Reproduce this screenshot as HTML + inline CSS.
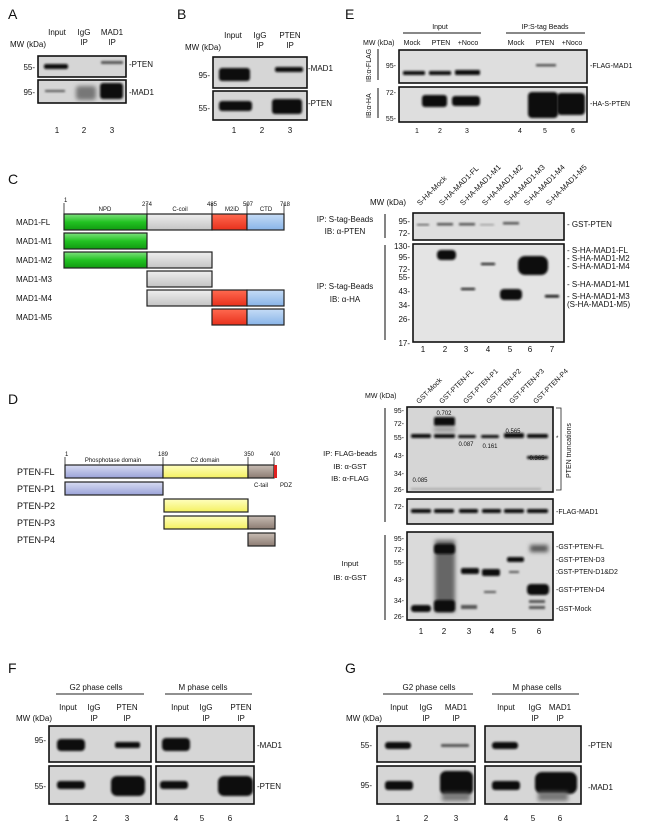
<!DOCTYPE html>
<html><head><meta charset="utf-8"><style>
html,body{margin:0;padding:0;background:#fff}
svg{display:block}
text{font-family:"Liberation Sans",Arial,sans-serif;fill:#111}
.s{font-size:8px}.m{font-size:9px}.L{font-size:14px}
.blot{fill:#d6d6d6;stroke:#111;stroke-width:1.6}
.wb{fill:#dedede;stroke:#111;stroke-width:1.6}
.bd{fill:#111;filter:url(#b)}
.fd{fill:#555;filter:url(#b)}
.dom{stroke:#222;stroke-width:1.2}
</style></head><body>
<svg width="650" height="829" viewBox="0 0 650 829" xmlns="http://www.w3.org/2000/svg">
<defs>
<filter id="b" x="-30%" y="-80%" width="160%" height="260%"><feGaussianBlur stdDeviation="1.1"/></filter>
<filter id="b2" x="-30%" y="-80%" width="160%" height="260%"><feGaussianBlur stdDeviation="2"/></filter>
<linearGradient id="gr" x1="0" y1="0" x2="0" y2="1"><stop offset="0" stop-color="#7fe07f"/><stop offset=".5" stop-color="#22c322"/><stop offset="1" stop-color="#119a11"/></linearGradient>
<linearGradient id="gy" x1="0" y1="0" x2="0" y2="1"><stop offset="0" stop-color="#eee"/><stop offset="1" stop-color="#c4c4c4"/></linearGradient>
<linearGradient id="rd" x1="0" y1="0" x2="0" y2="1"><stop offset="0" stop-color="#ff6a50"/><stop offset="1" stop-color="#e8301c"/></linearGradient>
<linearGradient id="bl" x1="0" y1="0" x2="0" y2="1"><stop offset="0" stop-color="#c6dcf6"/><stop offset="1" stop-color="#88b4e8"/></linearGradient>
<linearGradient id="lv" x1="0" y1="0" x2="0" y2="1"><stop offset="0" stop-color="#d8dcf2"/><stop offset="1" stop-color="#9aa2d8"/></linearGradient>
<linearGradient id="yl" x1="0" y1="0" x2="0" y2="1"><stop offset="0" stop-color="#ffffc0"/><stop offset="1" stop-color="#f4f060"/></linearGradient>
<linearGradient id="br" x1="0" y1="0" x2="0" y2="1"><stop offset="0" stop-color="#c8bcb4"/><stop offset="1" stop-color="#8c7c72"/></linearGradient>
</defs>

<!-- A -->
<text x="8" y="19" class="L">A</text>
<text x="57" y="35" class="s" text-anchor="middle">Input</text>
<text x="84" y="35" class="s" text-anchor="middle">IgG</text><text x="84" y="45" class="s" text-anchor="middle">IP</text>
<text x="112" y="35" class="s" text-anchor="middle">MAD1</text><text x="112" y="45" class="s" text-anchor="middle">IP</text>
<text x="10" y="47" class="s">MW (kDa)</text>
<rect x="38" y="56" width="88" height="21" class="blot"/>
<rect x="38" y="80" width="88" height="23" class="blot"/>
<text x="35" y="70" class="s" text-anchor="end">55-</text>
<text x="35" y="95" class="s" text-anchor="end">95-</text>
<text x="129" y="67" class="s">-PTEN</text><text x="129" y="95" class="s">-MAD1</text>
<rect x="44" y="64" width="24" height="5" rx="2" class="bd"/>
<rect x="101" y="61" width="22" height="3" rx="1" class="fd"/>
<rect x="45" y="90" width="20" height="2" class="fd"/>
<rect x="76" y="86" width="20" height="14" rx="3" fill="#777" filter="url(#b2)"/>
<rect x="100" y="83" width="23" height="16" rx="3" class="bd"/>
<text x="57" y="133" class="s" text-anchor="middle">1</text><text x="84" y="133" class="s" text-anchor="middle">2</text><text x="112" y="133" class="s" text-anchor="middle">3</text>

<!-- B -->
<text x="177" y="19" class="L">B</text>
<text x="233" y="38" class="s" text-anchor="middle">Input</text>
<text x="260" y="38" class="s" text-anchor="middle">IgG</text><text x="260" y="48" class="s" text-anchor="middle">IP</text>
<text x="290" y="38" class="s" text-anchor="middle">PTEN</text><text x="290" y="48" class="s" text-anchor="middle">IP</text>
<text x="185" y="50" class="s">MW (kDa)</text>
<rect x="213" y="57" width="94" height="31" class="blot"/>
<rect x="213" y="91" width="94" height="29" class="blot"/>
<text x="210" y="78" class="s" text-anchor="end">95-</text><text x="210" y="111" class="s" text-anchor="end">55-</text>
<text x="308" y="71" class="s">-MAD1</text><text x="308" y="106" class="s">-PTEN</text>
<rect x="219" y="68" width="31" height="13" rx="3" class="bd"/>
<rect x="275" y="67" width="28" height="5" rx="2" class="bd"/>
<rect x="219" y="101" width="33" height="10" rx="3" class="bd"/>
<rect x="272" y="99" width="30" height="15" rx="3" class="bd"/>
<text x="234" y="133" class="s" text-anchor="middle">1</text><text x="262" y="133" class="s" text-anchor="middle">2</text><text x="290" y="133" class="s" text-anchor="middle">3</text>

<!-- E -->
<text x="345" y="19" class="L">E</text>
<text x="440" y="29" class="s" text-anchor="middle" style="font-size:7px">Input</text>
<line x1="403" y1="33" x2="481" y2="33" stroke="#111"/>
<text x="545" y="29" class="s" text-anchor="middle" style="font-size:7px">IP:S-tag Beads</text>
<line x1="506" y1="33" x2="585" y2="33" stroke="#111"/>
<g style="font-size:7px"><text x="363" y="45" class="s" style="font-size:7px">MW (kDa)</text>
<text x="412" y="45" class="s" text-anchor="middle" style="font-size:7px">Mock</text>
<text x="441" y="45" class="s" text-anchor="middle" style="font-size:7px">PTEN</text>
<text x="468" y="45" class="s" text-anchor="middle" style="font-size:7px">+Noco</text>
<text x="516" y="45" class="s" text-anchor="middle" style="font-size:7px">Mock</text>
<text x="545" y="45" class="s" text-anchor="middle" style="font-size:7px">PTEN</text>
<text x="572" y="45" class="s" text-anchor="middle" style="font-size:7px">+Noco</text></g>
<rect x="399" y="50" width="188" height="33" class="wb"/>
<rect x="399" y="87" width="188" height="35" class="wb"/>
<line x1="378" y1="49" x2="378" y2="80" stroke="#111"/><line x1="378" y1="88" x2="378" y2="118" stroke="#111"/>
<text transform="translate(371,82) rotate(-90)" class="s" style="font-size:7px">IB:α-FLAG</text>
<text transform="translate(371,118) rotate(-90)" class="s" style="font-size:7px">IB:α-HA</text>
<text x="396" y="68" class="s" text-anchor="end" style="font-size:7px">95-</text>
<text x="396" y="95" class="s" text-anchor="end" style="font-size:7px">72-</text>
<text x="396" y="121" class="s" text-anchor="end" style="font-size:7px">55-</text>
<text x="590" y="68" class="s" style="font-size:7px">-FLAG-MAD1</text>
<text x="590" y="106" class="s" style="font-size:7px">-HA-S-PTEN</text>
<rect x="403" y="71" width="22" height="4" rx="1" class="bd"/>
<rect x="429" y="71" width="22" height="4" rx="1" class="bd"/>
<rect x="455" y="70" width="25" height="5" rx="1" class="bd"/>
<rect x="536" y="64" width="20" height="2.5" class="fd"/>
<rect x="422" y="95" width="25" height="12" rx="3" class="bd"/>
<rect x="452" y="96" width="28" height="10" rx="3" class="bd"/>
<rect x="528" y="92" width="30" height="26" rx="4" class="bd"/>
<rect x="557" y="93" width="28" height="22" rx="4" class="bd"/>
<g class="s" style="font-size:7px"><text x="417" y="133" text-anchor="middle" style="font-size:7px">1</text><text x="440" y="133" text-anchor="middle" style="font-size:7px">2</text><text x="467" y="133" text-anchor="middle" style="font-size:7px">3</text><text x="520" y="133" text-anchor="middle" style="font-size:7px">4</text><text x="545" y="133" text-anchor="middle" style="font-size:7px">5</text><text x="573" y="133" text-anchor="middle" style="font-size:7px">6</text></g>

<!-- C -->
<text x="8" y="184" class="L">C</text>
<g style="font-size:6px">
<text x="64" y="202" class="s" style="font-size:6px">1</text>
<text x="105" y="211" class="s" text-anchor="middle" style="font-size:6px">NPD</text>
<text x="147" y="206" class="s" text-anchor="middle" style="font-size:6px">274</text>
<text x="180" y="211" class="s" text-anchor="middle" style="font-size:6px">C-coil</text>
<text x="212" y="206" class="s" text-anchor="middle" style="font-size:6px">485</text>
<text x="232" y="211" class="s" text-anchor="middle" style="font-size:6px">M2iD</text>
<text x="248" y="206" class="s" text-anchor="middle" style="font-size:6px">597</text>
<text x="266" y="211" class="s" text-anchor="middle" style="font-size:6px">CTD</text>
<text x="285" y="206" class="s" text-anchor="middle" style="font-size:6px">718</text></g>
<g stroke="#222" stroke-width="0.8"><line x1="64" y1="203" x2="64" y2="214"/><line x1="147" y1="203" x2="147" y2="214"/><line x1="212" y1="203" x2="212" y2="214"/><line x1="247" y1="203" x2="247" y2="214"/><line x1="284" y1="203" x2="284" y2="214"/></g>
<g class="dom">
<rect x="64" y="214" width="83" height="16" fill="url(#gr)"/><rect x="147" y="214" width="65" height="16" fill="url(#gy)"/><rect x="212" y="214" width="35" height="16" fill="url(#rd)"/><rect x="247" y="214" width="37" height="16" fill="url(#bl)"/>
<rect x="64" y="233" width="83" height="16" fill="url(#gr)"/>
<rect x="64" y="252" width="83" height="16" fill="url(#gr)"/><rect x="147" y="252" width="65" height="16" fill="url(#gy)"/>
<rect x="147" y="271" width="65" height="16" fill="url(#gy)"/>
<rect x="147" y="290" width="65" height="16" fill="url(#gy)"/><rect x="212" y="290" width="35" height="16" fill="url(#rd)"/><rect x="247" y="290" width="37" height="16" fill="url(#bl)"/>
<rect x="212" y="309" width="35" height="16" fill="url(#rd)"/><rect x="247" y="309" width="37" height="16" fill="url(#bl)"/>
</g>
<g class="s"><text x="16" y="225" class="s">MAD1-FL</text><text x="16" y="244" class="s">MAD1-M1</text><text x="16" y="263" class="s">MAD1-M2</text><text x="16" y="282" class="s">MAD1-M3</text><text x="16" y="301" class="s">MAD1-M4</text><text x="16" y="320" class="s">MAD1-M5</text></g>

<!-- MAD1 truncation blot -->
<text x="370" y="205" class="s">MW (kDa)</text>
<g class="s" style="font-size:7.5px">
<text transform="translate(420,206) rotate(-45)" style="font-size:7.5px">S-HA-Mock</text>
<text transform="translate(442,206) rotate(-45)" style="font-size:7.5px">S-HA-MAD1-FL</text>
<text transform="translate(463,206) rotate(-45)" style="font-size:7.5px">S-HA-MAD1-M1</text>
<text transform="translate(485,206) rotate(-45)" style="font-size:7.5px">S-HA-MAD1-M2</text>
<text transform="translate(507,206) rotate(-45)" style="font-size:7.5px">S-HA-MAD1-M3</text>
<text transform="translate(527,206) rotate(-45)" style="font-size:7.5px">S-HA-MAD1-M4</text>
<text transform="translate(549,206) rotate(-45)" style="font-size:7.5px">S-HA-MAD1-M5</text>
</g>
<rect x="413" y="213" width="151" height="27" class="wb"/>
<rect x="413" y="244" width="151" height="98" class="wb" style="fill:#e4e4e4"/>
<line x1="385" y1="214" x2="385" y2="238" stroke="#333" stroke-width="1.2"/>
<line x1="385" y1="245" x2="385" y2="340" stroke="#333" stroke-width="1.2"/>
<text x="345" y="222" class="s" text-anchor="middle">IP: S-tag-Beads</text>
<text x="345" y="234" class="s" text-anchor="middle">IB: α-PTEN</text>
<text x="345" y="289" class="s" text-anchor="middle">IP: S-tag-Beads</text>
<text x="345" y="302" class="s" text-anchor="middle">IB: α-HA</text>
<g class="s" text-anchor="end"><text x="410" y="224" class="s">95-</text><text x="410" y="236" class="s">72-</text>
<text x="410" y="249" class="s">130-</text><text x="410" y="260" class="s">95-</text><text x="410" y="272" class="s">72-</text><text x="410" y="280" class="s">55-</text><text x="410" y="294" class="s">43-</text><text x="410" y="308" class="s">34-</text><text x="410" y="322" class="s">26-</text><text x="410" y="346" class="s">17-</text></g>
<text x="567" y="227" class="s">- GST-PTEN</text>
<text x="567" y="253" class="s">- S-HA-MAD1-FL</text>
<text x="567" y="261" class="s">- S-HA-MAD1-M2</text>
<text x="567" y="269" class="s">- S-HA-MAD1-M4</text>
<text x="567" y="287" class="s">- S-HA-MAD1-M1</text>
<text x="567" y="299" class="s">- S-HA-MAD1-M3</text>
<text x="567" y="307" class="s">(S-HA-MAD1-M5)</text>
<rect x="417" y="224" width="12" height="1.5" class="fd"/>
<rect x="437" y="223" width="16" height="2.5" class="fd"/>
<rect x="459" y="223" width="16" height="2.5" class="fd"/>
<rect x="480" y="224" width="14" height="1.5" class="fd" style="opacity:.5"/>
<rect x="503" y="222" width="16" height="2.5" class="fd"/>
<rect x="437" y="250" width="19" height="10" rx="4" class="bd"/>
<rect x="461" y="288" width="14" height="2" class="bd"/>
<rect x="481" y="263" width="14" height="2" class="bd"/>
<rect x="500" y="289" width="22" height="11" rx="4" class="bd"/>
<rect x="518" y="256" width="30" height="19" rx="7" class="bd"/>
<rect x="545" y="295" width="14" height="2.5" class="bd"/>
<g class="s" text-anchor="middle"><text x="423" y="352" class="s">1</text><text x="445" y="352" class="s">2</text><text x="466" y="352" class="s">3</text><text x="488" y="352" class="s">4</text><text x="510" y="352" class="s">5</text><text x="530" y="352" class="s">6</text><text x="552" y="352" class="s">7</text></g>

<!-- D -->
<text x="8" y="404" class="L">D</text>
<g style="font-size:6px">
<text x="65" y="456" class="s" style="font-size:6px">1</text>
<text x="113" y="462" class="s" text-anchor="middle" style="font-size:6px">Phosphotase domain</text>
<text x="163" y="456" class="s" text-anchor="middle" style="font-size:6px">189</text>
<text x="205" y="462" class="s" text-anchor="middle" style="font-size:6px">C2 domain</text>
<text x="249" y="456" class="s" text-anchor="middle" style="font-size:6px">350</text>
<text x="275" y="456" class="s" text-anchor="middle" style="font-size:6px">400</text>
<text x="261" y="487" class="s" text-anchor="middle" style="font-size:6px">C-tail</text>
<text x="286" y="487" class="s" text-anchor="middle" style="font-size:6px">PDZ</text></g>
<g stroke="#222" stroke-width="0.8"><line x1="65" y1="457" x2="65" y2="465"/><line x1="163" y1="457" x2="163" y2="465"/><line x1="248" y1="457" x2="248" y2="465"/><line x1="274" y1="457" x2="274" y2="465"/></g>
<g class="dom">
<rect x="65" y="465" width="98" height="13" fill="url(#lv)"/><rect x="163" y="465" width="85" height="13" fill="url(#yl)"/><rect x="248" y="465" width="26" height="13" fill="url(#br)"/><rect x="274" y="465" width="3" height="13" fill="#e02020" stroke="none"/>
<rect x="65" y="482" width="98" height="13" fill="url(#lv)"/>
<rect x="164" y="499" width="84" height="13" fill="url(#yl)"/>
<rect x="164" y="516" width="84" height="13" fill="url(#yl)"/><rect x="248" y="516" width="27" height="13" fill="url(#br)"/>
<rect x="248" y="533" width="27" height="13" fill="url(#br)"/>
</g>
<text x="17" y="475" class="m">PTEN-FL</text><text x="17" y="492" class="m">PTEN-P1</text><text x="17" y="509" class="m">PTEN-P2</text><text x="17" y="526" class="m">PTEN-P3</text><text x="17" y="543" class="m">PTEN-P4</text>

<!-- PTEN truncation blot -->
<text x="365" y="398" class="s" style="font-size:7px">MW (kDa)</text>
<g>
<text transform="translate(419,404) rotate(-45)" class="s" style="font-size:7px">GST-Mock</text>
<text transform="translate(442,404) rotate(-45)" class="s" style="font-size:7px">GST-PTEN-FL</text>
<text transform="translate(466,404) rotate(-45)" class="s" style="font-size:7px">GST-PTEN-P1</text>
<text transform="translate(489,404) rotate(-45)" class="s" style="font-size:7px">GST-PTEN-P2</text>
<text transform="translate(512,404) rotate(-45)" class="s" style="font-size:7px">GST-PTEN-P3</text>
<text transform="translate(536,404) rotate(-45)" class="s" style="font-size:7px">GST-PTEN-P4</text>
</g>
<rect x="407" y="407" width="146" height="85" class="blot"/>
<rect x="407" y="499" width="146" height="25" class="blot"/>
<rect x="407" y="532" width="146" height="88" class="blot" style="fill:#dadada"/>
<line x1="385" y1="408" x2="385" y2="522" stroke="#333" stroke-width="1.2"/>
<line x1="385" y1="535" x2="385" y2="620" stroke="#333" stroke-width="1.2"/>
<text x="350" y="456" class="s" text-anchor="middle" style="font-size:7.5px">IP: FLAG-beads</text>
<text x="350" y="469" class="s" text-anchor="middle" style="font-size:7.5px">IB: α-GST</text>
<text x="350" y="481" class="s" text-anchor="middle" style="font-size:7.5px">IB: α-FLAG</text>
<text x="350" y="566" class="s" text-anchor="middle" style="font-size:7.5px">Input</text>
<text x="350" y="580" class="s" text-anchor="middle" style="font-size:7.5px">IB: α-GST</text>
<g style="font-size:7px">
<text x="404" y="413" class="s" text-anchor="end" style="font-size:7px">95-</text>
<text x="404" y="426" class="s" text-anchor="end" style="font-size:7px">72-</text>
<text x="404" y="440" class="s" text-anchor="end" style="font-size:7px">55-</text>
<text x="404" y="458" class="s" text-anchor="end" style="font-size:7px">43-</text>
<text x="404" y="476" class="s" text-anchor="end" style="font-size:7px">34-</text>
<text x="404" y="492" class="s" text-anchor="end" style="font-size:7px">26-</text>
<text x="404" y="509" class="s" text-anchor="end" style="font-size:7px">72-</text>
<text x="404" y="541" class="s" text-anchor="end" style="font-size:7px">95-</text>
<text x="404" y="552" class="s" text-anchor="end" style="font-size:7px">72-</text>
<text x="404" y="565" class="s" text-anchor="end" style="font-size:7px">55-</text>
<text x="404" y="582" class="s" text-anchor="end" style="font-size:7px">43-</text>
<text x="404" y="603" class="s" text-anchor="end" style="font-size:7px">34-</text>
<text x="404" y="619" class="s" text-anchor="end" style="font-size:7px">26-</text>
</g>
<path d="M556 408 H561 V490 H556" fill="none" stroke="#222" stroke-width="0.8"/>
<text transform="translate(571,478) rotate(-90)" class="s" style="font-size:7px">PTEN truncations</text>
<text x="556" y="440" class="s" style="font-size:6px">*</text>
<text x="556" y="514" class="s" style="font-size:7px">-FLAG-MAD1</text>
<text x="556" y="549" class="s" style="font-size:7px">-GST-PTEN-FL</text>
<text x="556" y="562" class="s" style="font-size:7px">-GST-PTEN-D3</text>
<text x="556" y="574" class="s" style="font-size:7px">:GST-PTEN-D1&amp;D2</text>
<text x="556" y="592" class="s" style="font-size:7px">-GST-PTEN-D4</text>
<text x="556" y="611" class="s" style="font-size:7px">-GST-Mock</text>
<g style="font-size:6px">
<text x="444" y="415" class="s" text-anchor="middle" style="font-size:6px">0.702</text>
<text x="466" y="446" class="s" text-anchor="middle" style="font-size:6px">0.087</text>
<text x="490" y="448" class="s" text-anchor="middle" style="font-size:6px">0.161</text>
<text x="513" y="433" class="s" text-anchor="middle" style="font-size:6px">0.565</text>
<text x="537" y="460" class="s" text-anchor="middle" style="font-size:6px">0.365</text>
<text x="420" y="482" class="s" text-anchor="middle" style="font-size:6px">0.085</text>
</g>
<!-- blot1 bands -->
<rect x="411" y="434" width="20" height="4" rx="1.5" class="bd"/>
<rect x="434" y="434" width="21" height="4" rx="1.5" class="bd"/>
<rect x="458" y="435" width="18" height="3" rx="1.5" class="bd"/>
<rect x="481" y="435" width="18" height="3" rx="1.5" class="bd"/>
<rect x="504" y="433" width="20" height="5" rx="1.5" class="bd"/>
<rect x="527" y="434" width="21" height="4" rx="1.5" class="bd"/>
<rect x="434" y="417" width="21" height="9" rx="2" class="bd"/>
<rect x="434" y="427" width="21" height="5" fill="#999" filter="url(#b2)"/>
<rect x="527" y="456" width="21" height="3" rx="1" class="bd"/>
<rect x="411" y="488" width="130" height="2" fill="#aaa" filter="url(#b)"/>
<!-- blot2 bands -->
<rect x="411" y="509" width="20" height="4" rx="1.5" class="bd"/>
<rect x="434" y="509" width="20" height="4" rx="1.5" class="bd"/>
<rect x="459" y="509" width="19" height="4" rx="1.5" class="bd"/>
<rect x="482" y="509" width="19" height="4" rx="1.5" class="bd"/>
<rect x="504" y="509" width="20" height="4" rx="1.5" class="bd"/>
<rect x="527" y="509" width="21" height="4" rx="1.5" class="bd"/>
<!-- blot3 bands -->
<rect x="411" y="605" width="20" height="7" rx="3" class="bd"/>
<rect x="435" y="540" width="20" height="72" fill="#666" filter="url(#b2)"/>
<rect x="434" y="544" width="21" height="10" rx="3" class="bd"/>
<rect x="434" y="600" width="21" height="12" rx="3" class="bd"/>
<rect x="461" y="568" width="18" height="6" rx="2" class="bd"/>
<rect x="461" y="605" width="16" height="4" class="fd"/>
<rect x="482" y="569" width="18" height="7" rx="2" class="bd"/>
<rect x="484" y="591" width="12" height="2" class="fd"/>
<rect x="507" y="557" width="17" height="5" rx="2" class="bd"/>
<rect x="509" y="571" width="10" height="2" class="fd"/>
<rect x="527" y="584" width="22" height="11" rx="4" class="bd"/>
<rect x="530" y="545" width="18" height="7" fill="#555" filter="url(#b2)"/>
<rect x="529" y="600" width="16" height="3" class="fd"/>
<rect x="529" y="606" width="16" height="3" class="fd"/>
<g style="font-size:8px"><text x="421" y="634" class="s" text-anchor="middle">1</text><text x="444" y="634" class="s" text-anchor="middle">2</text><text x="469" y="634" class="s" text-anchor="middle">3</text><text x="492" y="634" class="s" text-anchor="middle">4</text><text x="514" y="634" class="s" text-anchor="middle">5</text><text x="539" y="634" class="s" text-anchor="middle">6</text></g>

<!-- F -->
<text x="8" y="673" class="L">F</text>
<text x="96" y="690" class="s" text-anchor="middle">G2 phase cells</text>
<line x1="56" y1="694" x2="144" y2="694" stroke="#222"/>
<text x="203" y="690" class="s" text-anchor="middle">M phase cells</text>
<line x1="165" y1="694" x2="252" y2="694" stroke="#222"/>
<g class="s" text-anchor="middle">
<text x="68" y="710" class="s">Input</text><text x="94" y="710" class="s">IgG</text><text x="94" y="721" class="s">IP</text><text x="127" y="710" class="s">PTEN</text><text x="127" y="721" class="s">IP</text>
<text x="180" y="710" class="s">Input</text><text x="206" y="710" class="s">IgG</text><text x="206" y="721" class="s">IP</text><text x="241" y="710" class="s">PTEN</text><text x="241" y="721" class="s">IP</text></g>
<text x="16" y="721" class="s">MW (kDa)</text>
<rect x="49" y="726" width="102" height="36" class="blot"/>
<rect x="49" y="766" width="102" height="38" class="blot"/>
<rect x="156" y="726" width="98" height="36" class="blot"/>
<rect x="156" y="766" width="98" height="38" class="blot"/>
<text x="46" y="743" class="s" text-anchor="end">95-</text><text x="46" y="789" class="s" text-anchor="end">55-</text>
<text x="257" y="748" class="s">-MAD1</text><text x="257" y="789" class="s">-PTEN</text>
<rect x="57" y="739" width="28" height="12" rx="4" class="bd"/>
<rect x="115" y="742" width="25" height="6" rx="2" class="bd"/>
<rect x="162" y="738" width="28" height="13" rx="4" class="bd"/>
<rect x="57" y="781" width="28" height="8" rx="3" class="bd"/>
<rect x="111" y="776" width="34" height="20" rx="6" class="bd"/>
<rect x="160" y="781" width="28" height="8" rx="3" class="bd"/>
<rect x="218" y="776" width="35" height="20" rx="6" class="bd"/>
<g class="s" text-anchor="middle"><text x="67" y="821" class="s">1</text><text x="95" y="821" class="s">2</text><text x="127" y="821" class="s">3</text><text x="176" y="821" class="s">4</text><text x="202" y="821" class="s">5</text><text x="230" y="821" class="s">6</text></g>

<!-- G -->
<text x="345" y="673" class="L">G</text>
<text x="429" y="690" class="s" text-anchor="middle">G2 phase cells</text>
<line x1="383" y1="694" x2="473" y2="694" stroke="#222"/>
<text x="537" y="690" class="s" text-anchor="middle">M phase cells</text>
<line x1="492" y1="694" x2="579" y2="694" stroke="#222"/>
<g class="s" text-anchor="middle">
<text x="399" y="710" class="s">Input</text><text x="426" y="710" class="s">IgG</text><text x="426" y="721" class="s">IP</text><text x="456" y="710" class="s">MAD1</text><text x="456" y="721" class="s">IP</text>
<text x="506" y="710" class="s">Input</text><text x="535" y="710" class="s">IgG</text><text x="535" y="721" class="s">IP</text><text x="560" y="710" class="s">MAD1</text><text x="560" y="721" class="s">IP</text></g>
<text x="346" y="721" class="s">MW (kDa)</text>
<rect x="377" y="726" width="98" height="36" class="blot"/>
<rect x="377" y="766" width="98" height="38" class="blot"/>
<rect x="485" y="726" width="96" height="36" class="blot"/>
<rect x="485" y="766" width="96" height="38" class="blot"/>
<text x="372" y="748" class="s" text-anchor="end">55-</text><text x="372" y="788" class="s" text-anchor="end">95-</text>
<text x="588" y="748" class="s">-PTEN</text><text x="588" y="790" class="s">-MAD1</text>
<rect x="385" y="742" width="26" height="7" rx="3" class="bd"/>
<rect x="441" y="744" width="28" height="3" rx="1" class="fd"/>
<rect x="492" y="742" width="26" height="7" rx="3" class="bd"/>
<rect x="385" y="781" width="28" height="9" rx="3" class="bd"/>
<rect x="440" y="771" width="33" height="24" rx="6" class="bd"/>
<rect x="442" y="793" width="28" height="8" fill="#777" filter="url(#b2)"/>
<rect x="492" y="781" width="28" height="9" rx="3" class="bd"/>
<rect x="535" y="772" width="42" height="22" rx="7" class="bd"/>
<rect x="538" y="792" width="30" height="9" fill="#777" filter="url(#b2)"/>
<g class="s" text-anchor="middle"><text x="398" y="821" class="s">1</text><text x="426" y="821" class="s">2</text><text x="456" y="821" class="s">3</text><text x="506" y="821" class="s">4</text><text x="533" y="821" class="s">5</text><text x="560" y="821" class="s">6</text></g>
</svg>
</body></html>
